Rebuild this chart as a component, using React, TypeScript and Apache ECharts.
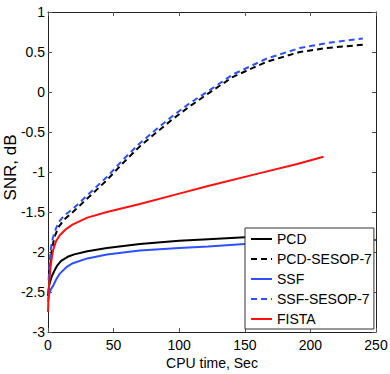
import React, { useEffect, useRef } from 'react';
import * as echarts from 'echarts';

// ---- data ----
const xTicks = [0, 50, 100, 150, 200, 250];
const yTicks = [-3, -2.5, -2, -1.5, -1, -0.5, 0, 0.5, 1];

const seriesNames = ['PCD', 'PCD-SESOP-7', 'SSF', 'SSF-SESOP-7', 'FISTA'];

const pcdX = [0, 0.5, 1, 2, 3, 5, 7, 10, 15, 20, 30, 45, 70, 100, 122, 150, 180, 200];
const pcdY = [-2.55, -2.46, -2.41, -2.35, -2.3, -2.23, -2.17, -2.11, -2.06, -2.03, -1.99, -1.95, -1.9, -1.86, -1.84, -1.815, -1.8, -1.79];

const pcdSesopX = [1, 2, 3, 5, 8, 12, 19, 32, 45, 57, 70, 83, 95, 108, 122, 141, 167, 192, 212, 240];
const pcdSesopY = [-2.3, -2.12, -1.96, -1.81, -1.69, -1.6, -1.5, -1.3, -1.1, -0.89, -0.68, -0.5, -0.34, -0.18, -0.02, 0.19, 0.38, 0.5, 0.55, 0.59];

const ssfX = [0, 0.5, 1, 2, 4, 6, 9, 14, 19, 30, 45, 70, 100, 122, 150, 200, 250];
const ssfY = [-2.62, -2.56, -2.52, -2.47, -2.42, -2.35, -2.27, -2.19, -2.14, -2.08, -2.03, -1.98, -1.95, -1.93, -1.9, -1.87, -1.85];

const ssfSesopX = [0.5, 1, 2, 3, 5, 8, 12, 19, 32, 45, 57, 70, 83, 95, 108, 122, 141, 167, 192, 212, 240];
const ssfSesopY = [-2.35, -2.2, -1.98, -1.87, -1.75, -1.63, -1.55, -1.46, -1.26, -1.06, -0.85, -0.64, -0.46, -0.3, -0.14, 0.01, 0.22, 0.42, 0.55, 0.61, 0.67];

const fistaX = [0, 0.5, 1, 2, 3, 4, 6, 9, 14, 19, 30, 45, 70, 100, 122, 160, 190, 210];
const fistaY = [-2.75, -2.5, -2.36, -2.18, -2.06, -1.97, -1.87, -1.79, -1.71, -1.655, -1.57, -1.5, -1.4, -1.27, -1.175, -1.02, -0.9, -0.81];

const FONT = "'Liberation Sans', Arial, Helvetica, sans-serif";

const zip = (xs: number[], ys: number[]) => xs.map((x, i) => [x, ys[i]]);

export default function App() {
  const ref = useRef<HTMLDivElement>(null);

  useEffect(() => {
    if (!ref.current) return;
    const chart = echarts.init(ref.current, undefined, { renderer: 'svg' });

    const axisLine = { show: true, onZero: false, lineStyle: { color: '#222', width: 1 } };
    const tick = { show: true, inside: true, length: 4, lineStyle: { color: '#555' } };

    const mk = (name: string, xs: number[], ys: number[], color: string, dashed: boolean) => ({
      name,
      type: 'line',
      data: zip(xs, ys),
      showSymbol: false,
      symbol: 'none',
      smooth: false,
      lineStyle: { color, width: 2, type: dashed ? [6, 4] : 'solid' },
      itemStyle: { color },
      xAxisIndex: 0,
      yAxisIndex: 0,
    });

    chart.setOption({
      animation: false,
      backgroundColor: '#fff',
      grid: { left: 48, top: 12, right: 14, bottom: 42, containLabel: false, outerBoundsMode: 'none' },
      textStyle: { fontFamily: FONT },
      legend: {
        data: seriesNames,
        orient: 'vertical',
        left: 245,
        top: 228,
        backgroundColor: '#fff',
        borderColor: '#333',
        borderWidth: 1,
        borderRadius: 0,
        padding: [4, 2, 3, 5],
        itemWidth: 21,
        itemHeight: 14,
        itemGap: 6,
        itemStyle: { color: 'rgba(0,0,0,0)', borderWidth: 0, opacity: 0 },
        textStyle: { fontFamily: FONT, fontSize: 14, color: '#000', lineHeight: 14 },
      },
      xAxis: [
        {
          type: 'value',
          min: xTicks[0],
          max: xTicks[xTicks.length - 1],
          interval: 50,
          position: 'bottom',
          name: 'CPU time, Sec',
          nameLocation: 'middle',
          nameGap: 24,
          nameMoveOverlap: false,
          nameTextStyle: { fontFamily: FONT, fontSize: 14, color: '#000' },
          axisLine,
          axisTick: tick,
          splitLine: { show: false },
          axisLabel: { fontFamily: FONT, fontSize: 14, color: '#000', margin: 6 },
        },
        {
          type: 'value',
          min: xTicks[0],
          max: xTicks[xTicks.length - 1],
          interval: 50,
          position: 'top',
          axisLine,
          axisTick: tick,
          splitLine: { show: false },
          axisLabel: { show: false },
        },
      ],
      yAxis: [
        {
          type: 'value',
          min: yTicks[0],
          max: yTicks[yTicks.length - 1],
          interval: 0.5,
          position: 'left',
          name: 'SNR, dB',
          nameLocation: 'middle',
          nameGap: 29,
          nameMoveOverlap: false,
          nameRotate: 90,
          nameTextStyle: { fontFamily: FONT, fontSize: 17, color: '#000', padding: [0, 0, 0, 9] },
          axisLine,
          axisTick: tick,
          splitLine: { show: false },
          axisLabel: { fontFamily: FONT, fontSize: 14, color: '#000', margin: 3 },
        },
        {
          type: 'value',
          min: yTicks[0],
          max: yTicks[yTicks.length - 1],
          interval: 0.5,
          position: 'right',
          axisLine,
          axisTick: tick,
          splitLine: { show: false },
          axisLabel: { show: false },
        },
      ],
      series: [
        mk('PCD', pcdX, pcdY, '#000000', false),
        mk('PCD-SESOP-7', pcdSesopX, pcdSesopY, '#000000', true),
        mk('SSF', ssfX, ssfY, '#3050ff', false),
        mk('SSF-SESOP-7', ssfSesopX, ssfSesopY, '#3050ff', true),
        mk('FISTA', fistaX, fistaY, '#ff1010', false),
      ],
    });

    return () => chart.dispose();
  }, []);

  return (
    <div
      ref={ref}
      style={{ position: 'fixed', left: 0, top: 0, width: 390, height: 374, background: '#fff' }}
    />
  );
}
